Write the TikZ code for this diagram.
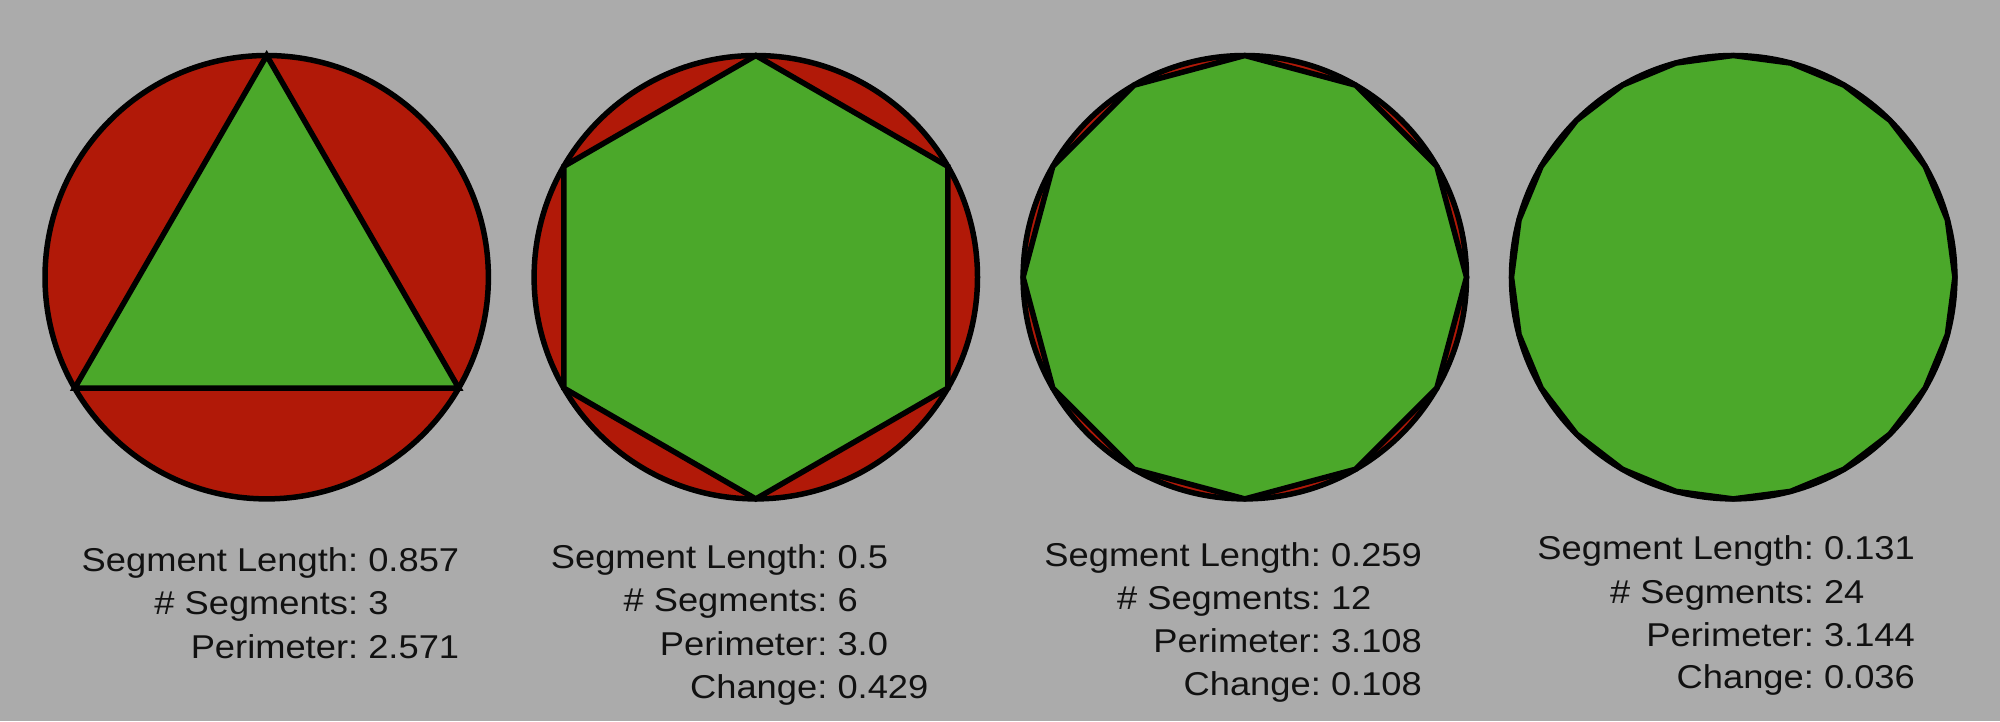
\documentclass[tikz,border=0pt]{standalone}
\usepackage{fontspec}
\setmainfont{Liberation Sans}[FakeStretch=1.1]
\usetikzlibrary{calc}
\definecolor{bgcol}{RGB}{171,171,171}
\definecolor{redfill}{RGB}{177,25,8}
\definecolor{greenfill}{RGB}{75,168,42}
\definecolor{txtcol}{RGB}{17,17,17}
\begin{document}
\begin{tikzpicture}[x=1pt,y=-1pt,
  ring/.style={fill=redfill,draw=black,line width=5.5pt},
  poly/.style={fill=greenfill,draw=black,line width=5.5pt,line join=miter},
  lbl/.style={inner sep=0pt,outer sep=0pt,anchor=base east,text=txtcol,font=\fontsize{33}{40}\selectfont},
  val/.style={inner sep=0pt,outer sep=0pt,anchor=base west,text=txtcol,font=\fontsize{33}{40}\selectfont}]
\fill[bgcol] (0,0) rectangle (2000,721);
\useasboundingbox (0,0) rectangle (2000,721);
% circles and inscribed polygons
\foreach \i/\cx/\n in {1/266.7/3, 2/755.8/6, 3/1244.8/12, 4/1733.2/24}{
  \coordinate (c\i) at (\cx,277.2);
  \draw[ring] (c\i) circle[radius=221.7pt];
  \pgfmathsetmacro{\st}{360/\n}
  \pgfmathtruncatemacro{\last}{\n-1}
  \draw[poly] ($(c\i)+(90:221.7pt)$)
    \foreach \k in {1,...,\last}{ -- ($(c\i)+({90+\st*\k}:221.7pt)$) } -- cycle;
}
% text blocks
\def\sp{10.1}
\foreach \b/\vx/\ya/\yb/\yc in {1/368.3/571.7/614.5/658.3, 2/837.5/568.5/611.8/655.5, 3/1331/566.5/609.5/652, 4/1824/559.5/603/646}{
  \node[lbl] (l\b a) at (\vx-\sp,\ya) {Segment Length:};
  \node[lbl] (l\b b) at (\vx-\sp,\yb) {\# Segments:};
  \node[lbl] (l\b c) at (\vx-\sp,\yc) {Perimeter:};
}
\node[val] (v1a) at (368.3,571.7) {0.857};
\node[val] (v1b) at (368.3,614.5) {3};
\node[val] (v1c) at (368.3,658.3) {2.571};
\node[val] (v2a) at (837.5,568.5) {0.5};
\node[val] (v2b) at (837.5,611.8) {6};
\node[val] (v2c) at (837.5,655.5) {3.0};
\node[lbl] (l2d) at (837.5-\sp,698) {Change:};
\node[val] (v2d) at (837.5,698) {0.429};
\node[val] (v3a) at (1331,566.5) {0.259};
\node[val] (v3b) at (1331,609.5) {12};
\node[val] (v3c) at (1331,652) {3.108};
\node[lbl] (l3d) at (1331-\sp,695) {Change:};
\node[val] (v3d) at (1331,695) {0.108};
\node[val] (v4a) at (1824,559.5) {0.131};
\node[val] (v4b) at (1824,603) {24};
\node[val] (v4c) at (1824,646) {3.144};
\node[lbl] (l4d) at (1824-\sp,688) {Change:};
\node[val] (v4d) at (1824,688) {0.036};
\end{tikzpicture}
\end{document}
